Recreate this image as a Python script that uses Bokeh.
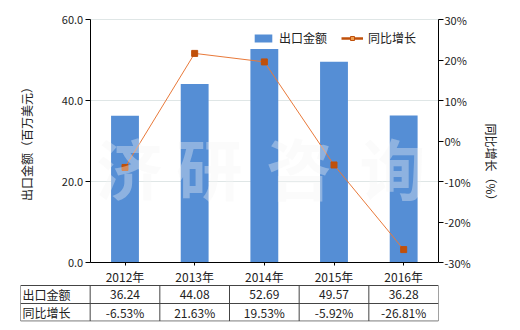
from bokeh.plotting import figure
from bokeh.models import (Range1d, LinearAxis, FixedTicker, NumeralTickFormatter,
                          PrintfTickFormatter, ColumnDataSource, Legend, LegendItem, Label)
from bokeh.embed import file_html
from bokeh.resources import INLINE
from bokeh.core.properties import value

years = ["2012年", "2013年", "2014年", "2015年", "2016年"]
export = [36.24, 44.08, 52.69, 49.57, 36.28]
growth = [-6.53, 21.63, 19.53, -5.92, -26.81]
series_names = ["出口金额", "同比增长"]
left_ticks = [0, 20, 40, 60]
right_ticks = [-30, -20, -10, 0, 10, 20, 30]
watermark = "济研咨询"

FONT = "Noto Sans CJK SC"
BAR = "#558ed5"
LINE = "#e8793a"
MARK = "#c0500a"
TXT = "#222222"
GRID = "#dfe6e6"
TBL = "#444444"

W, H = 520, 330
TL, CL, FR, FT, CB, TB = 20, 91, 438, 19, 262, 321   # table-left, chart-left, right, chart-top, chart-bottom, table-bottom (px)
FRAME_TOP = 8                                        # frame top (px), above the chart top so labels are not cut
ROW_MID = 303                                        # table row divider (px)

n = len(years)
idx = list(range(n))
LMIN, LMAX = min(left_ticks), max(left_ticks)
RMIN, RMAX = min(right_ticks), max(right_ticks)

def ext(lo, hi):
    k = (hi - lo) / (CB - FT)
    return lo - (TB - CB) * k, hi + (FT - FRAME_TOP) * k

def ydata(px):
    return LMIN + (CB - px) * (LMAX - LMIN) / (CB - FT)

src = ColumnDataSource(dict(x=idx, export=export, growth=growth))

p = figure(width=W, height=H, output_backend="svg", toolbar_location=None,
           x_range=Range1d(-1.5, n - 0.5), y_range=Range1d(*ext(LMIN, LMAX)),
           min_border_left=TL, min_border_right=W - FR, min_border_top=FRAME_TOP,
           min_border_bottom=H - TB, x_axis_type=None, y_axis_type=None)
p.outline_line_color = None
p.grid.visible = False
p.extra_y_ranges = {"pct": Range1d(*ext(RMIN, RMAX)),
                    "hidden": Range1d(1000, 2000)}

# grid lines (only across the chart area)
gl = [t for t in left_ticks if t > LMIN]
p.segment(x0=[-0.5] * len(gl), x1=[n - 0.5] * len(gl), y0=gl, y1=gl, line_color=GRID, line_width=1)

bars = p.vbar(x="x", top="export", width=0.4, source=src, fill_color=BAR, line_color=None)
ln = p.line(x="x", y="growth", source=src, y_range_name="pct", line_color=LINE, line_width=1)
mk = p.scatter(x="x", y="growth", source=src, y_range_name="pct", marker="square",
               size=6, fill_color=MARK, line_color=MARK)

# legend swatch renderers (same data, on an off-screen range; used only for the legend)
lg_line = p.line(x="x", y="growth", source=src, y_range_name="hidden", line_color=MARK, line_width=2.5)
lg_mark = p.scatter(x="x", y="growth", source=src, y_range_name="hidden", marker="square",
                    size=5, fill_color="#f0a050", line_color=MARK)

# axes
xa = LinearAxis(fixed_location=0, bounds=(-0.5, n - 0.5))
xa.ticker = FixedTicker(ticks=idx)
xa.major_label_overrides = {i: y for i, y in zip(idx, years)}
xa.major_tick_out = 3
xa.major_tick_in = 0
xa.minor_tick_line_color = None
xa.major_label_standoff = 2
xa.major_label_text_font = FONT
xa.major_label_text_font_size = "12px"
xa.major_label_text_color = TXT
xa.axis_line_color = "black"
xa.major_tick_line_color = "black"
p.add_layout(xa, "below")

ya = LinearAxis(fixed_location=-0.5, bounds=(LMIN, LMAX))
ya.ticker = FixedTicker(ticks=left_ticks)
ya.formatter = NumeralTickFormatter(format="0.0")
ya.major_tick_out = 5
ya.major_tick_in = 0
ya.minor_tick_line_color = None
ya.major_label_standoff = 2
ya.major_label_text_font = FONT
ya.major_label_text_font_size = "11px"
ya.major_label_text_color = TXT
ya.axis_label = "出口金额（百万美元）"
ya.axis_label_text_font = FONT
ya.axis_label_text_font_size = "12px"
ya.axis_label_text_font_style = "normal"
ya.axis_label_text_color = TXT
ya.axis_label_standoff = 24
ya.axis_line_color = "black"
p.add_layout(ya, "left")

ra = LinearAxis(y_range_name="pct", bounds=(RMIN, RMAX))
ra.ticker = FixedTicker(ticks=right_ticks)
ra.formatter = PrintfTickFormatter(format="%d%%")
ra.major_tick_out = 5
ra.major_tick_in = 0
ra.minor_tick_line_color = None
ra.major_label_standoff = 1
ra.major_label_text_font = FONT
ra.major_label_text_font_size = "11px"
ra.major_label_text_color = TXT
ra.axis_label = "同比增长（%）"
ra.axis_label_text_font = FONT
ra.axis_label_text_font_size = "12px"
ra.axis_label_text_font_style = "normal"
ra.axis_label_text_color = TXT
ra.axis_label_standoff = 9
ra.axis_line_color = "black"
p.add_layout(ra, "right")

legend = Legend(items=[LegendItem(label=series_names[0], renderers=[bars]),
                       LegendItem(label=series_names[1], renderers=[lg_line, lg_mark])],
                orientation="horizontal", location=(232, 275),
                background_fill_alpha=0, border_line_color=None,
                label_text_font=FONT, label_text_font_size="12px", label_text_color=TXT,
                glyph_width=22, glyph_height=10, spacing=14, padding=2, margin=0,
                label_standoff=5)
p.add_layout(legend)

# watermark
wm_x = [0.06, 1.21, 2.50, 3.84]
for ch, xx in zip(watermark, wm_x):
    p.add_layout(Label(x=xx, y=ydata(165), text=ch, text_align="center", text_baseline="middle",
                       text_font=FONT, text_font_size="66px", text_font_style="bold",
                       text_color="#f3f3f3", text_alpha=0.36))

# data table below the chart
ys = [ydata(285), ydata(ROW_MID), ydata(TB) + 0.1]
col_edges = [-1.5 + i for i in range(n + 2)]
p.segment(x0=col_edges, x1=col_edges, y0=[ys[2]] * len(col_edges), y1=[ys[0]] * len(col_edges),
          line_color=TBL, line_width=1)
p.segment(x0=[col_edges[0]] * 3, x1=[col_edges[-1]] * 3, y0=ys, y1=ys,
          line_color=TBL, line_width=1)
row_c = [(ys[0] + ys[1]) / 2, (ys[1] + ys[2]) / 2]
p.text(x=idx, y=[row_c[0]] * n, text=[f"{v:.2f}" for v in export], text_align="center",
       text_baseline="middle", text_font=value(FONT), text_font_size="12px", text_color=TXT)
p.text(x=idx, y=[row_c[1]] * n, text=[f"{g:.2f}%" for g in growth], text_align="center",
       text_baseline="middle", text_font=value(FONT), text_font_size="12px", text_color=TXT)
p.text(x=[col_edges[0]] * 2, y=row_c, text=series_names, text_align="left", x_offset=2,
       text_baseline="middle", text_font=value(FONT), text_font_size="12px", text_color=TXT)

open("out.html", "w").write(file_html(p, INLINE))
